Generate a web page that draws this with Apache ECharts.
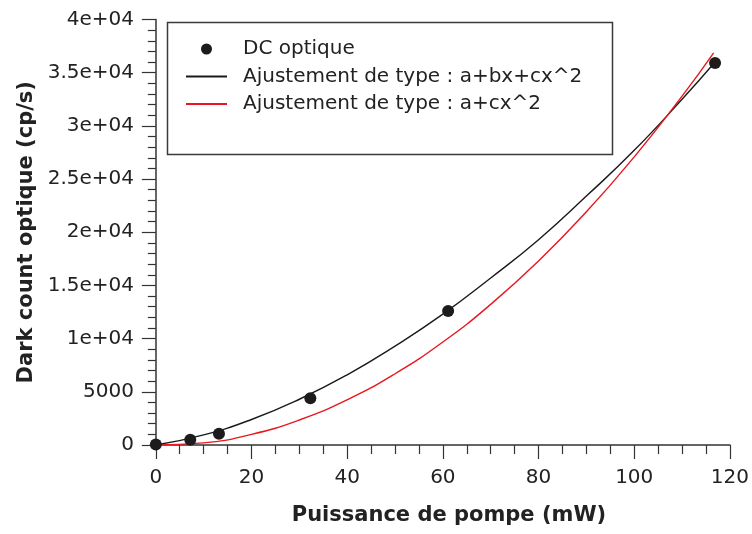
<!DOCTYPE html>
<html>
<head>
<meta charset="utf-8">
<script src="https://cdn.jsdelivr.net/npm/echarts@6/dist/echarts.min.js"></script>
<style>html,body{margin:0;padding:0;background:#fff}#c{width:752px;height:534px}</style>
</head>
<body>
<div id="c"></div>
<script>
// ---- data ----
const dcX = [0, 7.2, 13.2, 32.3, 61.1, 116.9];
const dcY = [50, 500, 1050, 4400, 12600, 35900];

const fit1X = [0, 10, 20, 30, 40, 50, 60, 70, 80, 90, 100, 110, 116.9];
const fit1Y = [0, 950, 2400, 4300, 6600, 9300, 12300, 15700, 19300, 23400, 27700, 32500, 36000];

const fit2X = [0, 10, 20, 30, 40, 50, 60, 70, 80, 90, 100, 110, 116.6];
const fit2Y = [0, 200, 1000, 2350, 4250, 6700, 9680, 13220, 17300, 21920, 27090, 32800, 36870];

const xMajorTicks = [0, 20, 40, 60, 80, 100, 120];
const xMinorTicks = [5, 10, 15, 25, 30, 35, 45, 50, 55, 65, 70, 75, 85, 90, 95, 105, 110, 115];
const yTickLabels = ['0', '5000', '1e+04', '1.5e+04', '2e+04', '2.5e+04', '3e+04', '3.5e+04', '4e+04'];

const seriesNames = ['DC optique', 'Ajustement de type : a+bx+cx^2', 'Ajustement de type : a+cx^2'];
const xTitle = 'Puissance de pompe (mW)';
const yTitle = 'Dark count optique (cp/s)';

const zip = (a, b) => a.map((v, i) => [v, b[i]]);

const FONT = 'DejaVu Sans';
const TXT = '#222';
const AX = '#333';

const chart = echarts.init(document.getElementById('c'), null, {renderer: 'canvas'});
chart.setOption({
  animation: false,
  backgroundColor: '#fff',
  grid: {left: 152, right: 22, top: 19.5, bottom: 89, containLabel: false},
  xAxis: [{
    type: 'value', min: -0.8, max: 120, position: 'bottom',
    name: xTitle, nameLocation: 'middle', nameGap: 60,
    nameTextStyle: {fontFamily: FONT, fontWeight: 'bold', fontSize: 21, color: TXT, padding: [0, 0, 0, 16]},
    axisLine: {show: true, lineStyle: {color: AX, width: 1.5}},
    axisTick: {show: true, customValues: xMajorTicks, length: 14, lineStyle: {color: AX, width: 1.2}},
    axisLabel: {customValues: xMajorTicks, margin: 23, fontFamily: FONT, fontSize: 20, color: TXT},
    splitLine: {show: false}
  }, {
    type: 'value', min: -0.8, max: 120, position: 'bottom',
    axisLine: {show: false},
    axisTick: {show: true, customValues: xMinorTicks, length: 9, lineStyle: {color: AX, width: 1.2}},
    axisLabel: {show: false},
    splitLine: {show: false}
  }],
  yAxis: {
    type: 'value', min: 0, max: 40000, interval: 5000,
    name: yTitle, nameLocation: 'middle', nameGap: 112, nameRotate: 90,
    nameTextStyle: {fontFamily: FONT, fontWeight: 'bold', fontSize: 21, color: TXT},
    axisLine: {show: true, lineStyle: {color: AX, width: 1.5}},
    axisTick: {show: true, length: 14, lineStyle: {color: AX, width: 1.2}},
    minorTick: {show: true, splitNumber: 5, length: 8, lineStyle: {color: AX, width: 1.2}},
    axisLabel: {margin: 18, fontFamily: FONT, fontSize: 20, color: TXT,
      formatter: v => yTickLabels[Math.round(v / 5000)]},
    splitLine: {show: false}
  },
  legend: {
    orient: 'vertical', left: 185, top: 38, padding: 0,
    itemWidth: 41, itemHeight: 11, itemGap: 5.5,
    textStyle: {fontFamily: FONT, fontSize: 20, color: TXT, lineHeight: 22, padding: [0, 0, 0, 11]},
    data: [
      {name: seriesNames[0], icon: 'circle', itemStyle: {color: '#1e1b1c', opacity: 1}},
      {name: seriesNames[1], itemStyle: {opacity: 0}},
      {name: seriesNames[2], itemStyle: {opacity: 0}}
    ]
  },
  graphic: [{
    type: 'rect', shape: {x: 167.5, y: 22.5, width: 445, height: 132},
    style: {fill: 'none', stroke: '#3a3a3a', lineWidth: 1.5}, z: 100
  }],
  series: [{
    name: seriesNames[1], type: 'line', smooth: true, symbol: 'none',
    data: zip(fit1X, fit1Y), lineStyle: {color: '#1a1a1a', width: 1.4}, itemStyle: {color: '#1a1a1a'}, z: 2
  }, {
    name: seriesNames[2], type: 'line', smooth: true, symbol: 'none',
    data: zip(fit2X, fit2Y), lineStyle: {color: '#e8161e', width: 1.4}, itemStyle: {color: '#e8161e'}, z: 2
  }, {
    name: seriesNames[0], type: 'scatter', symbol: 'circle', symbolSize: 12,
    data: zip(dcX, dcY), itemStyle: {color: '#1e1b1c', opacity: 1}, z: 3
  }]
});
</script>
</body>
</html>
